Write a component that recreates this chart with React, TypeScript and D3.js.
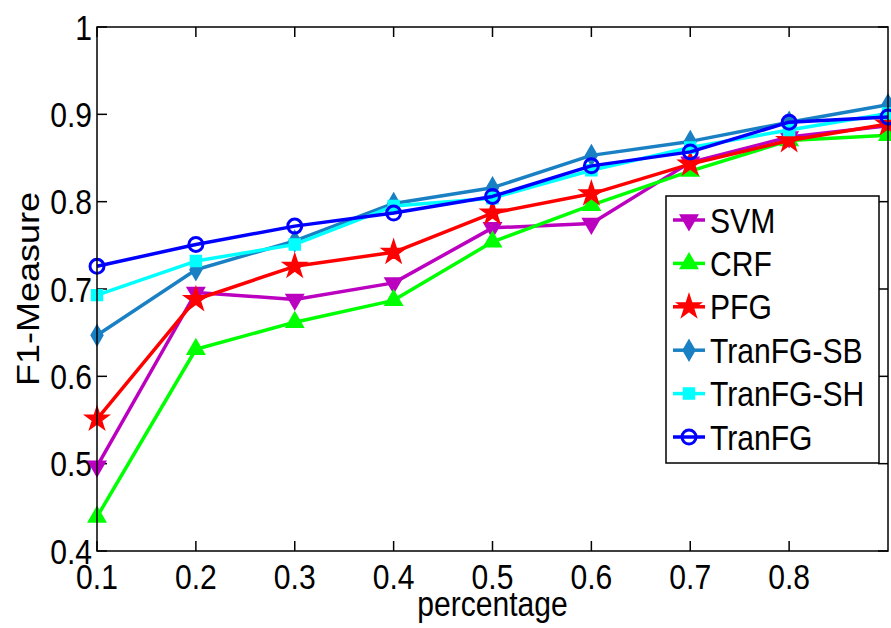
import * as d3 from "d3";
import { useEffect, useRef } from "react";

const xValues = [0.1, 0.2, 0.3, 0.4, 0.5, 0.6, 0.7, 0.8, 0.9];
const xTicks = [0.1, 0.2, 0.3, 0.4, 0.5, 0.6, 0.7, 0.8];
const yTicks = [0.4, 0.5, 0.6, 0.7, 0.8, 0.9, 1];

const svm = [0.497, 0.696, 0.688, 0.707, 0.77, 0.775, 0.845, 0.874, 0.887];
const crf = [0.439, 0.631, 0.662, 0.687, 0.754, 0.796, 0.835, 0.87, 0.876];
const pfg = [0.551, 0.688, 0.726, 0.742, 0.787, 0.809, 0.843, 0.87, 0.889];
const tranfgSB = [0.647, 0.722, 0.755, 0.798, 0.816, 0.853, 0.869, 0.891, 0.911];
const tranfgSH = [0.693, 0.732, 0.751, 0.795, 0.804, 0.836, 0.862, 0.882, 0.901];
const tranfg = [0.726, 0.751, 0.772, 0.787, 0.806, 0.841, 0.857, 0.891, 0.897];

const seriesNames = ["SVM", "CRF", "PFG", "TranFG-SB", "TranFG-SH", "TranFG"];
const seriesValues = [svm, crf, pfg, tranfgSB, tranfgSH, tranfg];
const seriesColors = ["#bb00c0", "#00ff00", "#ff0000", "#1a80c4", "#00ffff", "#0000ff"];
const seriesMarkers = ["down", "up", "star", "diamond", "square", "circle"];

const W = 891;
const H = 628;
const FONT = "'Liberation Sans', Arial, Helvetica, sans-serif";
const SX = 0.86; // text looks horizontally squeezed

const App = () => {
  const ref = useRef(null);

  useEffect(() => {
    const svg = d3.select(ref.current);
    svg.selectAll("*").remove();

    const margin = { left: 97, right: 3, top: 27, bottom: 77 };
    const x = d3.scaleLinear().domain([0.1, 0.9]).range([margin.left, W - margin.right]);
    const y = d3.scaleLinear().domain([0.4, 1]).range([H - margin.bottom, margin.top]);
    const [x0, x1] = x.range();
    const [y0, y1] = y.range();

    svg.append("rect").attr("width", W).attr("height", H).attr("fill", "#fff");

    // ticks (inward, all four sides)
    const tk = 10;
    const g = svg.append("g").attr("stroke", "#000").attr("stroke-width", 1.5);
    xTicks.forEach(t => {
      g.append("line").attr("x1", x(t)).attr("x2", x(t)).attr("y1", y0).attr("y2", y0 - tk);
      g.append("line").attr("x1", x(t)).attr("x2", x(t)).attr("y1", y1).attr("y2", y1 + tk);
    });
    yTicks.forEach(t => {
      g.append("line").attr("x1", x0).attr("x2", x0 + tk).attr("y1", y(t)).attr("y2", y(t));
      g.append("line").attr("x1", x1).attr("x2", x1 - tk).attr("y1", y(t)).attr("y2", y(t));
    });

    // tick labels
    const txt = (px, py, s, anchor, size = 35) =>
      svg.append("text")
        .attr("transform", `translate(${px},${py}) scale(${SX},1)`)
        .attr("text-anchor", anchor)
        .attr("font-family", FONT)
        .attr("font-size", size)
        .attr("fill", "#000")
        .text(s);

    xTicks.forEach(t => txt(x(t), 589, String(t), "middle"));
    yTicks.forEach(t => txt(x0 - 5, y(t) + 12.5, String(t), "end"));

    // axis titles
    txt((x0 + x1) / 2, 616, "percentage", "middle");
    svg.append("text")
      .attr("transform", `translate(39,${(y0 + y1) / 2}) scale(${SX},1) rotate(-90)`)
      .attr("text-anchor", "middle")
      .attr("font-family", FONT)
      .attr("font-size", 36)
      .attr("fill", "#000")
      .text("F1-Measure");

    const drawMarker = (sel, kind, color, cx, cy) => {
      if (kind === "circle") {
        sel.append("circle").attr("cx", cx).attr("cy", cy).attr("r", 7)
          .attr("fill", "none").attr("stroke", color).attr("stroke-width", 3);
        return;
      }
      let type = d3.symbolTriangle, size = 130, rot = 0;
      if (kind === "down") rot = 180;
      if (kind === "star") { type = d3.symbolStar; size = 170; }
      if (kind === "diamond") { type = d3.symbolDiamond; size = 120; }
      if (kind === "square") { type = d3.symbolSquare; size = 120; }
      sel.append("path")
        .attr("d", d3.symbol().type(type).size(size)())
        .attr("transform", `translate(${cx},${cy}) rotate(${rot})`)
        .attr("fill", color)
        .attr("stroke", color)
        .attr("stroke-width", 1.5);
    };

    const line = d3.line().x(d => x(d[0])).y(d => y(d[1]));

    seriesValues.forEach((vals, i) => {
      const pts = xValues.map((v, j) => [v, vals[j]]);
      const sg = svg.append("g");
      sg.append("path")
        .attr("d", line(pts))
        .attr("fill", "none")
        .attr("stroke", seriesColors[i])
        .attr("stroke-width", 3.5)
        .attr("stroke-linejoin", "round");
      pts.forEach(p => drawMarker(sg, seriesMarkers[i], seriesColors[i], x(p[0]), y(p[1])));
    });

    // box
    svg.append("rect")
      .attr("x", x0).attr("y", y1).attr("width", x1 - x0).attr("height", y0 - y1)
      .attr("fill", "none").attr("stroke", "#000").attr("stroke-width", 1.5);

    // legend
    const lx = 666, ly = 196, lw = 213, lh = 267;
    const lg = svg.append("g");
    lg.append("rect").attr("x", lx).attr("y", ly).attr("width", lw).attr("height", lh)
      .attr("fill", "#fff").attr("stroke", "#000").attr("stroke-width", 1.5);
    seriesNames.forEach((name, i) => {
      const ry = 220 + i * 43.4;
      lg.append("line").attr("x1", 673).attr("x2", 705).attr("y1", ry).attr("y2", ry)
        .attr("stroke", seriesColors[i]).attr("stroke-width", 3.5);
      drawMarker(lg, seriesMarkers[i], seriesColors[i], 689, ry);
      lg.append("text")
        .attr("transform", `translate(710,${ry + 12.5}) scale(${SX},1)`)
        .attr("font-family", FONT)
        .attr("font-size", 35)
        .attr("fill", "#000")
        .text(name);
    });
  }, []);

  return (
    <svg ref={ref} width={W} height={H}
      style={{ position: "absolute", left: 0, top: 0, display: "block" }}></svg>
  );
};

export default App;
